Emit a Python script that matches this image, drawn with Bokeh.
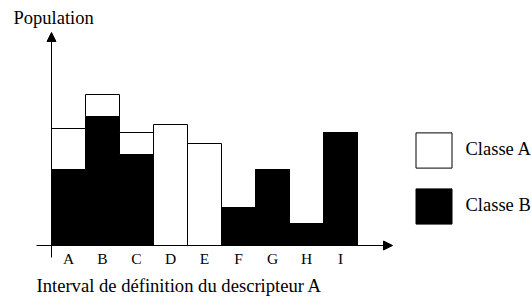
from bokeh.plotting import figure
from bokeh.models import Range1d, Arrow, NormalHead, Legend, LegendItem, ColumnDataSource
from bokeh.core.properties import value
from bokeh.embed import file_html
from bokeh.resources import INLINE

categories = ["A", "B", "C", "D", "E", "F", "G", "H", "I"]
classe_b = [7.6, 12.9, 9.1, 0, 0, 3.8, 7.6, 2.2, 11.3]
classe_a = [4.1, 2.2, 2.2, 12.1, 10.2, 0, 0, 0, 0]
series_names = ["Classe A", "Classe B"]
y_title = "Population"
x_title = "Interval de définition du descripteur A"

FONT_NAME = "Liberation Serif"
FONT = value(FONT_NAME)

idx = list(range(len(categories)))
src = ColumnDataSource(dict(
    x=idx,
    b=classe_b,
    a_top=[b + a for a, b in zip(classe_a, classe_b)],
    cat=categories,
))

p = figure(width=531, height=297, output_backend="svg", toolbar_location=None,
           min_border=0, x_axis_location=None, y_axis_location=None,
           x_range=Range1d(-2.0, 13.6176), y_range=Range1d(-5.2, 24.5))
p.grid.visible = False
p.outline_line_color = None
p.background_fill_color = "white"

rb = p.vbar(x="x", width=1, bottom=0, top="b", source=src,
            fill_color="black", line_color="black", line_width=1)
ra = p.vbar(x="x", width=1, bottom="b", top="a_top", source=src,
            fill_color="white", line_color="black", line_width=1)

head = dict(size=9, fill_color="black", line_color="black")
p.add_layout(Arrow(x_start=-0.5, y_start=-1.2, x_end=-0.5, y_end=21.3,
                   line_width=1, line_color="black", end=NormalHead(**head)))
p.add_layout(Arrow(x_start=-0.941, y_start=0, x_end=9.53, y_end=0,
                   line_width=1, line_color="black", end=NormalHead(**head)))

p.text(x="x", y=-1.3, text="cat", source=src, text_align="center",
       text_baseline="middle", text_font=FONT, text_font_size="15.5px", text_color="black")
p.text(x=[-1.6176], y=[22.8], text=[y_title], text_align="left", text_baseline="middle",
       text_font=FONT, text_font_size="18.5px", text_color="black")
p.text(x=[-0.941], y=[-3.95], text=[x_title], text_align="left", text_baseline="middle",
       text_font=FONT, text_font_size="18.6px", text_color="black")

legend = Legend(items=[LegendItem(label=series_names[0], renderers=[ra]),
                       LegendItem(label=series_names[1], renderers=[rb])],
                location=(410.5, 69.4), orientation="vertical",
                glyph_width=45, glyph_height=44, spacing=12, padding=0, margin=0,
                label_standoff=10, border_line_color=None, background_fill_alpha=0,
                label_text_font=FONT_NAME, label_text_font_size="18.5px", label_text_color="black")
p.add_layout(legend, "center")

open("out.html", "w").write(file_html(p, INLINE))
